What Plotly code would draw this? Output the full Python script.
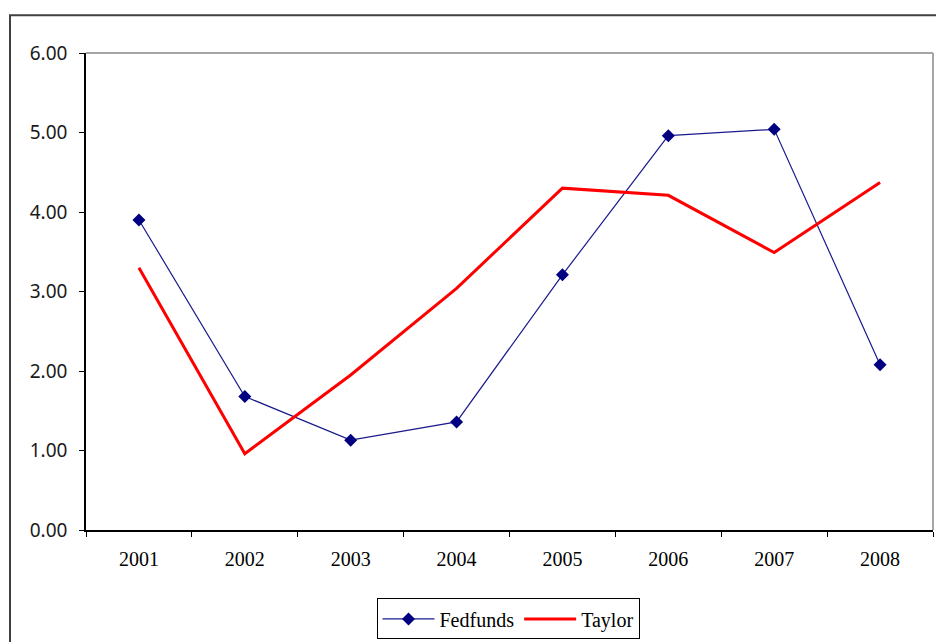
import plotly.graph_objects as go

years = ["2001", "2002", "2003", "2004", "2005", "2006", "2007", "2008"]
fedfunds = [3.90, 1.68, 1.13, 1.36, 3.21, 4.96, 5.04, 2.08]
taylor = [3.30, 0.96, 1.95, 3.04, 4.30, 4.21, 3.49, 4.37]
y_ticks = [0, 1, 2, 3, 4, 5, 6]

W, H = 936, 642
L, R, T, B = 86, 3, 53, 108
pw = W - L - R
ph = H - T - B

def px_to_paper_x(x):
    return (x - L) / pw

def px_to_paper_y(y):
    return (H - B - y) / ph

fig = go.Figure()
fig.add_trace(go.Scatter(
    x=years, y=fedfunds, name="Fedfunds", mode="lines+markers",
    line=dict(color="#1a1a8c", width=1.2),
    marker=dict(symbol="diamond", size=10, color="#000080"),
))
fig.add_trace(go.Scatter(
    x=years, y=taylor, name="Taylor", mode="lines",
    line=dict(color="#ff0000", width=3),
))

shapes = [
    # outer chart frame
    dict(type="rect", xref="paper", yref="paper",
         x0=px_to_paper_x(10), x1=px_to_paper_x(945),
         y0=px_to_paper_y(660), y1=px_to_paper_y(15),
         line=dict(color="#404040", width=2), layer="below"),
    # top and right edges of the plot area
    dict(type="line", xref="paper", yref="paper", x0=0, x1=1, y0=1, y1=1,
         line=dict(color="#a6a6a6", width=2)),
    dict(type="line", xref="paper", yref="paper", x0=1, x1=1, y0=0, y1=1,
         line=dict(color="#a6a6a6", width=2)),
]

fig.update_layout(
    width=W, height=H,
    margin=dict(l=L, r=R, t=T, b=B),
    paper_bgcolor="white", plot_bgcolor="white",
    shapes=shapes,
    showlegend=True,
    legend=dict(
        orientation="h", x=px_to_paper_x(508), xanchor="center",
        y=px_to_paper_y(603), yanchor="top",
        bordercolor="black", borderwidth=1, bgcolor="white",
        font=dict(family="Liberation Serif", size=20, color="black"),
        itemwidth=52, tracegroupgap=0,
    ),
    xaxis=dict(
        type="category", range=[-0.5, 7.5],
        showline=True, linecolor="black", linewidth=1.5,
        ticks="outside", ticklen=5, tickcolor="black", tickwidth=1,
        tickson="boundaries", showgrid=False, zeroline=False,
        tickfont=dict(family="Liberation Serif", size=20, color="black"),
        ticklabelstandoff=10,
    ),
    yaxis=dict(
        range=[0, 6], tickvals=y_ticks, tickformat=".2f",
        showline=True, linecolor="black", linewidth=1.5,
        ticks="outside", ticklen=5, tickcolor="black", tickwidth=1,
        showgrid=False, zeroline=False,
        tickfont=dict(family="Noto Sans", size=19, color="#1a1a1a"),
        ticklabelstandoff=8,
    ),
)

fig.write_html("out.html")
